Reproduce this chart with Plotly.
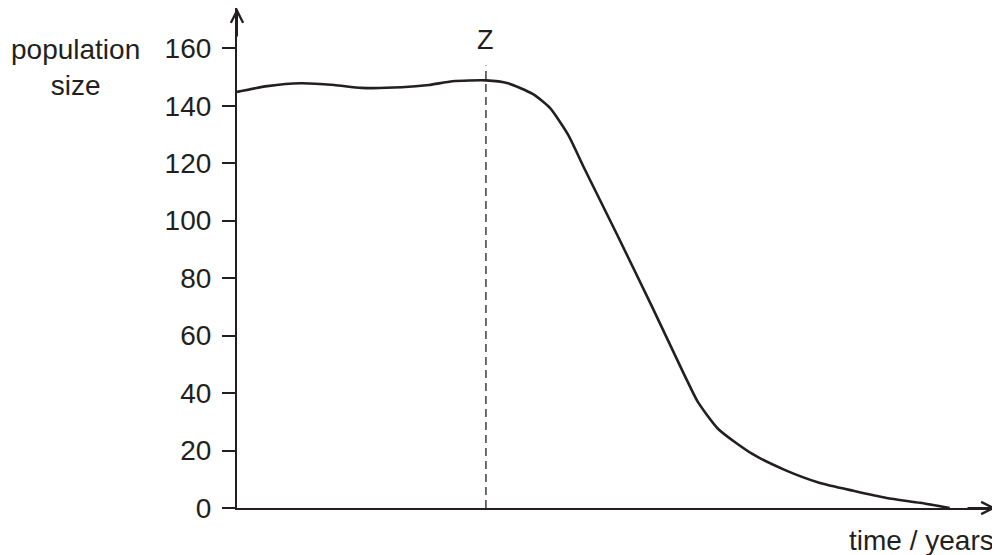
import plotly.graph_objects as go

# values (time in arbitrary units, axis runs 0..100)
time = [0, 4.0, 8.4, 12.8, 16.4, 21.7, 25.3, 28.4, 32.8, 35.7, 39.0, 41.2, 43.6,
        45.7, 50.1, 54.6, 59.0, 60.7, 63.4, 67.9, 72.3, 76.7, 81.2, 85.6, 90.0, 93.9]
population = [144.8, 146.8, 147.8, 147.2, 146.2, 146.4, 147.2, 148.5, 148.8, 147.8, 144.0, 139.3, 130.0,
              118.5, 95.0, 70.5, 46.0, 37.0, 27.5, 18.8, 13.1, 8.8, 6.0, 3.5, 1.8, 0.0]

z_time = 32.8
z_top = 154
y_ticks = [0, 20, 40, 60, 80, 100, 120, 140, 160]

INK = "#231f20"
FONT = "Liberation Sans, Arial, sans-serif"

fig = go.Figure()

# dashed marker line at Z
fig.add_trace(go.Scatter(x=[z_time, z_time], y=[0, z_top], mode="lines",
                         line=dict(color=INK, width=1.3, dash="8px,5px"),
                         hoverinfo="skip", showlegend=False))

fig.add_trace(go.Scatter(x=time, y=population, mode="lines",
                         line=dict(color=INK, width=2.6, shape="spline", smoothing=0.6),
                         showlegend=False))

fig.update_xaxes(range=[0, 100], showline=True, linecolor=INK, linewidth=2.2,
                 showticklabels=False, ticks="", showgrid=False, zeroline=False)
fig.update_yaxes(range=[0, 174], showline=True, linecolor=INK, linewidth=2.2,
                 tickvals=y_ticks, ticks="outside", ticklen=13, tickwidth=2, tickcolor=INK,
                 ticklabelstandoff=5,
                 tickfont=dict(family=FONT, size=28, color=INK),
                 showgrid=False, zeroline=False)

# axis arrowheads
fig.add_annotation(x=0, y=174, ax=0, ay=30, xref="x", yref="y", text="", showarrow=True,
                   arrowhead=5, arrowsize=1.2, arrowwidth=2, arrowcolor=INK)
fig.add_annotation(x=100, y=0, ax=-30, ay=0, xref="x", yref="y", text="", showarrow=True,
                   arrowhead=5, arrowsize=1.2, arrowwidth=2, arrowcolor=INK)

fig.add_annotation(x=z_time, y=163, xref="x", yref="y", text="Z", showarrow=False,
                   font=dict(family=FONT, size=27, color=INK))
fig.add_annotation(x=-0.213, y=153.2, xref="paper", yref="y", text="population<br>size",
                   xanchor="center", yanchor="middle", showarrow=False,
                   font=dict(family=FONT, size=28, color=INK))
fig.add_annotation(x=1.0, y=-0.065, xref="paper", yref="paper", text="time / years",
                   xanchor="right", yanchor="middle", showarrow=False,
                   font=dict(family=FONT, size=28, color=INK))

# page body has an 8px margin, so the figure is shifted by that amount
fig.update_layout(width=992, height=547, margin=dict(l=229, r=4, t=0, b=47),
                  plot_bgcolor="white", paper_bgcolor="white")

fig.write_html("out.html")
